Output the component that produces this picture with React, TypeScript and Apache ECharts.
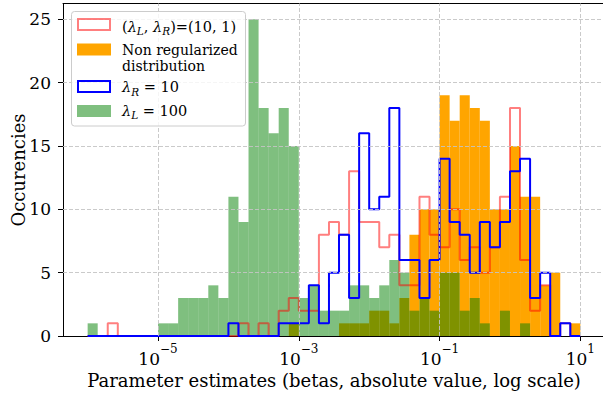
import React, { useEffect, useRef } from "react";
import * as echarts from "echarts";

// Histogram bins: log-spaced edges 10^-6 ... 10^1, 49 bins (values are log10 exponents)
const BIN_FIRST_EXP = -6;
const BIN_LAST_EXP = 1;
const BIN_COUNT = 49;

// Counts per bin (bin 0 .. bin 48)
const countsL10R1 = [
  0, 0, 1, 0, 0, 0, 0, 0, 0, 0,
  0, 0, 0, 0, 0, 1, 0, 1, 0, 2,
  3, 2, 2, 8, 9, 8, 13, 9, 9, 7,
  8, 4, 4, 11, 8, 7, 10, 6, 7, 5,
  7, 11, 18, 6, 2, 4, 0, 1, 0,
];
const countsNonRegularized = [
  0, 0, 0, 0, 0, 0, 0, 0, 0, 0,
  0, 0, 0, 0, 0, 0, 0, 0, 0, 0,
  1, 0, 0, 0, 0, 1, 1, 1, 2, 2,
  1, 3, 8, 10, 10, 19, 17, 19, 18, 17,
  10, 10, 15, 11, 11, 4, 5, 0, 1,
];
const countsR10 = [
  0, 0, 0, 0, 0, 0, 0, 0, 0, 0,
  0, 0, 0, 0, 1, 0, 0, 0, 0, 1,
  1, 1, 4, 1, 5, 8, 3, 16, 10, 11,
  18, 6, 6, 3, 6, 14, 9, 8, 5, 9,
  7, 9, 13, 14, 3, 5, 0, 1, 0,
];
const countsL100 = [
  1, 0, 0, 0, 0, 0, 0, 1, 1, 3,
  3, 3, 4, 3, 11, 9, 25, 18, 16, 18,
  15, 3, 4, 2, 2, 2, 4, 4, 3, 4,
  6, 5, 2, 3, 2, 5, 5, 2, 3, 1,
  0, 2, 0, 1, 0, 0, 0, 0, 0,
];

const xTickExps = [-5, -3, -1, 1];
const yTicks = [0, 5, 10, 15, 20, 25];

const xTitle = "Parameter estimates (betas, absolute value, log scale)";
const yTitle = "Occurencies";

const X_MIN = -6.35;
const X_MAX = 1.35;
const Y_MAX = 26.25;

const FONT = "'DejaVu Serif', 'Liberation Serif', serif";

const edges: number[] = [];
for (let k = 0; k <= BIN_COUNT; k++) {
  edges.push(BIN_FIRST_EXP + ((BIN_LAST_EXP - BIN_FIRST_EXP) * k) / BIN_COUNT);
}

function barData(counts: number[]) {
  const out: number[][] = [];
  counts.forEach((c, k) => {
    if (c > 0) out.push([edges[k], edges[k + 1], c]);
  });
  return out;
}

function stepData(counts: number[]) {
  const pts: number[][] = [[edges[0], 0]];
  counts.forEach((c, k) => {
    pts.push([edges[k], c]);
    pts.push([edges[k + 1], c]);
  });
  pts.push([edges[counts.length], 0]);
  return pts;
}

function barSeries(name: string, counts: number[], color: string, z: number) {
  return {
    name,
    type: "custom",
    z,
    xAxisIndex: 0,
    yAxisIndex: 0,
    encode: { x: [0, 1], y: 2 },
    data: barData(counts),
    renderItem: (_params: any, api: any) => {
      const x0 = api.value(0);
      const x1 = api.value(1);
      const c = api.value(2);
      const p0 = api.coord([x0, 0]);
      const p1 = api.coord([x1, c]);
      return {
        type: "rect",
        shape: { x: p0[0], y: p1[1], width: p1[0] - p0[0], height: p0[1] - p1[1] },
        style: { fill: color },
      };
    },
  };
}

function stepSeries(name: string, counts: number[], color: string, z: number) {
  return {
    name,
    type: "line",
    z,
    symbol: "none",
    data: stepData(counts),
    lineStyle: { color, width: 2 },
    itemStyle: { color },
    clip: true,
  };
}

const LEG_SIZE = 14;
const legendRich = {
  n: { fontFamily: FONT, fontSize: 14.5, lineHeight: 20, verticalAlign: "middle", fill: "#000" },
  i: { fontFamily: FONT, fontSize: 14.5, fontStyle: "italic", lineHeight: 20, verticalAlign: "middle", fill: "#000" },
  s: { fontFamily: FONT, fontSize: 10.5, fontStyle: "italic", lineHeight: 11, verticalAlign: "bottom", fill: "#000" },
};

export default function App() {
  const ref = useRef<HTMLDivElement>(null);
  useEffect(() => {
    if (!ref.current) return;
    const chart = echarts.init(ref.current, null, { renderer: "svg" });
    const gridDash = { type: [4, 2] as any, color: "#c4c4c4", width: 0.9 };
    const option: any = {
      animation: false,
      grid: { left: 63, top: 3.5, width: 542, height: 332.5, containLabel: false, outerBoundsMode: "none" },
      xAxis: [
        {
          type: "value",
          min: X_MIN,
          max: X_MAX,
          axisLine: { show: true, onZero: false, lineStyle: { color: "#000", width: 1 } },
          axisTick: { show: true, customValues: xTickExps, length: 5, lineStyle: { color: "#000" } },
          axisLabel: {
            customValues: xTickExps,
            margin: 7,
            color: "#000",
            formatter: (v: number) => `{b|10}{e|${v < 0 ? "\u2212" : ""}${Math.abs(v)}}`,
            rich: {
              b: { fontFamily: FONT, fontSize: 17, lineHeight: 24, verticalAlign: "bottom", color: "#000" },
              e: { fontFamily: FONT, fontSize: 12, lineHeight: 12, verticalAlign: "top", color: "#000" },
            },
          },
          splitLine: { show: false },
        },
        {
          type: "value",
          position: "top",
          min: X_MIN,
          max: X_MAX,
          axisLine: { show: true, onZero: false, lineStyle: { color: "#000", width: 1 } },
          axisTick: { show: false },
          axisLabel: { show: false },
          splitLine: { show: false },
        },
      ],
      yAxis: {
        type: "value",
        min: 0,
        max: Y_MAX,
        axisLine: { show: true, onZero: false, lineStyle: { color: "#000", width: 1 } },
        axisTick: { show: true, customValues: yTicks, length: 5, lineStyle: { color: "#000" } },
        axisLabel: {
          customValues: yTicks,
          margin: 12,
          color: "#000",
          fontFamily: FONT,
          fontSize: 17,
        },
        splitLine: { show: false },
      },
      series: [
        barSeries("Non regularized distribution", countsNonRegularized, "#ffa500", 1),
        barSeries("\u03bbL = 100", countsL100, "rgba(0,128,0,0.5)", 2),
        stepSeries("(\u03bbL, \u03bbR)=(10, 1)", countsL10R1, "rgba(255,0,0,0.5)", 3),
        {
          ...stepSeries("\u03bbR = 10", countsR10, "#0000ff", 4),
          markLine: {
            silent: true,
            symbol: "none",
            label: { show: false },
            lineStyle: gridDash,
            data: [
              ...xTickExps.map((v) => ({ xAxis: v })),
              ...yTicks.filter((v) => v > 0).map((v) => ({ yAxis: v })),
            ],
          },
        },
      ],
      graphic: [
        {
          type: "text",
          x: 334,
          y: 380,
          style: {
            text: xTitle,
            fontFamily: FONT,
            fontSize: 18,
            fill: "#000",
            textAlign: "center",
            verticalAlign: "middle",
          },
        },
        {
          type: "text",
          x: 18,
          y: 170,
          rotation: Math.PI / 2,
          style: {
            text: yTitle,
            fontFamily: FONT,
            fontSize: 18,
            fill: "#000",
            textAlign: "center",
            verticalAlign: "middle",
          },
        },
        {
          type: "rect",
          z: 100,
          shape: { x: 71.5, y: 11.5, width: 174, height: 114.5, r: 3 },
          style: { fill: "rgba(255,255,255,0.8)", stroke: "#cccccc", lineWidth: 1 },
        },
        {
          type: "rect",
          z: 101,
          shape: { x: 78, y: 19, width: 32, height: 11 },
          style: { fill: "none", stroke: "rgba(255,0,0,0.5)", lineWidth: 2 },
        },
        {
          type: "rect",
          z: 101,
          shape: { x: 77, y: 43.5, width: 34, height: 12 },
          style: { fill: "#ffa500" },
        },
        {
          type: "rect",
          z: 101,
          shape: { x: 78, y: 81, width: 32, height: 11 },
          style: { fill: "none", stroke: "#0000ff", lineWidth: 2 },
        },
        {
          type: "rect",
          z: 101,
          shape: { x: 77, y: 105, width: 34, height: 12 },
          style: { fill: "rgba(0,128,0,0.5)" },
        },
        {
          type: "text",
          z: 101,
          x: 122,
          y: 26.5,
          style: {
            text: "{n|(}{i|\u03bb}{s|L}{n|, }{i|\u03bb}{s|R}{n|)=(10, 1)}",
            verticalAlign: "middle",
            rich: legendRich,
          },
        },
        {
          type: "text",
          z: 101,
          x: 122,
          y: 49.5,
          style: {
            text: "Non regularized",
            fontFamily: FONT,
            fontSize: LEG_SIZE,
            verticalAlign: "middle",
            fill: "#000",
          },
        },
        {
          type: "text",
          z: 101,
          x: 122,
          y: 66,
          style: {
            text: "distribution",
            fontFamily: FONT,
            fontSize: LEG_SIZE,
            verticalAlign: "middle",
            fill: "#000",
          },
        },
        {
          type: "text",
          z: 101,
          x: 122,
          y: 87,
          style: {
            text: "{i|\u03bb}{s|R}{n| = 10}",
            verticalAlign: "middle",
            rich: legendRich,
          },
        },
        {
          type: "text",
          z: 101,
          x: 122,
          y: 110.5,
          style: {
            text: "{i|\u03bb}{s|L}{n| = 100}",
            verticalAlign: "middle",
            rich: legendRich,
          },
        },
      ],
    };
    chart.setOption(option);
    return () => chart.dispose();
  }, []);
  return (
    <div
      ref={ref}
      style={{ position: "absolute", left: 0, top: 0, width: 603, height: 399, overflow: "hidden", background: "#fff" }}
    />
  );
}
